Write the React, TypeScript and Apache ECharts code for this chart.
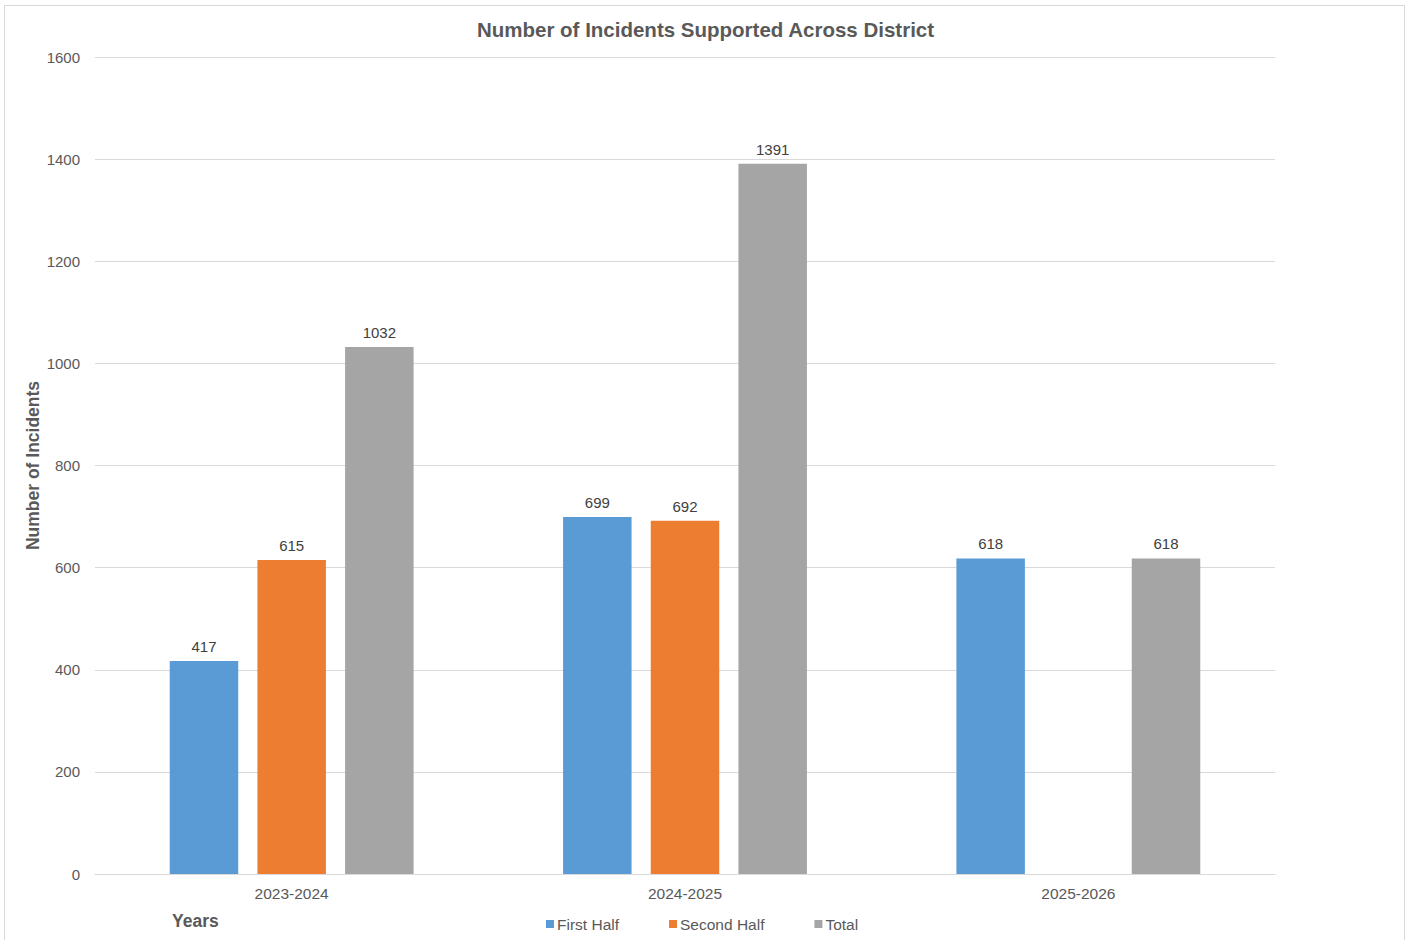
import React, { useEffect, useRef } from "react";
import * as echarts from "echarts";

const categories = ["2023-2024", "2024-2025", "2025-2026"];
const firstHalf = [417, 699, 618];
const secondHalf: (number | null)[] = [615, 692, null];
const total = [1032, 1391, 618];
const yTicks = { min: 0, max: 1600, interval: 200 };

export default function App() {
  const ref = useRef<HTMLDivElement>(null);
  useEffect(() => {
    if (!ref.current) return;
    const chart = echarts.init(ref.current, null, { renderer: "svg" });
    const font = "'Liberation Sans', Arial, sans-serif";
    const label = {
      show: true,
      position: "top" as const,
      color: "#404040",
      fontSize: 15,
      fontFamily: font,
      distance: 7,
    };
    chart.setOption({
      animation: false,
      backgroundColor: "#ffffff",
      textStyle: { fontFamily: font },
      title: {
        text: "Number of Incidents Supported Across District",
        left: "center",
        top: 14,
        textStyle: { color: "#595959", fontSize: 20.5, fontWeight: "bold", fontFamily: font },
      },
      graphic: [
        {
          type: "rect",
          shape: { x: 4.5, y: 5.5, width: 1400, height: 940 },
          style: { fill: "none", stroke: "#d9d9d9", lineWidth: 1 },
          silent: true,
        },
        {
          type: "text",
          left: 172,
          top: 912,
          style: { text: "Years", fill: "#595959", font: `bold 17.5px ${font}` },
        },
      ],
      legend: {
        data: ["First Half", "Second Half", "Total"],
        left: 541,
        top: 911,
        itemWidth: 8,
        itemHeight: 8,
        itemGap: 50,
        icon: "rect",
        textStyle: { color: "#595959", fontSize: 15.5, fontFamily: font, padding: [0, 0, 0, -2] },
      },
      grid: { left: 95, right: 136, top: 57, bottom: 66, containLabel: false },
      xAxis: {
        type: "category",
        data: categories,
        axisLine: { lineStyle: { color: "#d9d9d9" } },
        axisTick: { show: false },
        axisLabel: { color: "#595959", fontSize: 15.5, fontFamily: font, margin: 11 },
      },
      yAxis: {
        type: "value",
        min: yTicks.min,
        max: yTicks.max,
        interval: yTicks.interval,
        name: "Number of Incidents",
        nameLocation: "middle",
        nameGap: 53,
        nameMoveOverlap: false,
        nameTextStyle: { color: "#595959", fontSize: 17.5, fontWeight: "bold", fontFamily: font },
        axisLine: { show: false },
        axisTick: { show: false },
        axisLabel: {
          color: "#595959",
          fontSize: 15,
          fontFamily: font,
          margin: 15,
          formatter: (v: number) => String(v),
        },
        splitLine: { lineStyle: { color: "#d9d9d9" } },
      },
      series: [
        {
          name: "First Half",
          type: "bar",
          data: firstHalf,
          itemStyle: { color: "#5B9BD5" },
          barGap: "28%",
          barCategoryGap: "38%",
          label,
        },
        {
          name: "Second Half",
          type: "bar",
          data: secondHalf,
          itemStyle: { color: "#ED7D31" },
          label,
        },
        {
          name: "Total",
          type: "bar",
          data: total,
          itemStyle: { color: "#A5A5A5" },
          label,
        },
      ],
    });
    return () => chart.dispose();
  }, []);
  return (
    <div
      ref={ref}
      style={{ position: "fixed", left: 0, top: 0, width: 1411, height: 940 }}
    />
  );
}
